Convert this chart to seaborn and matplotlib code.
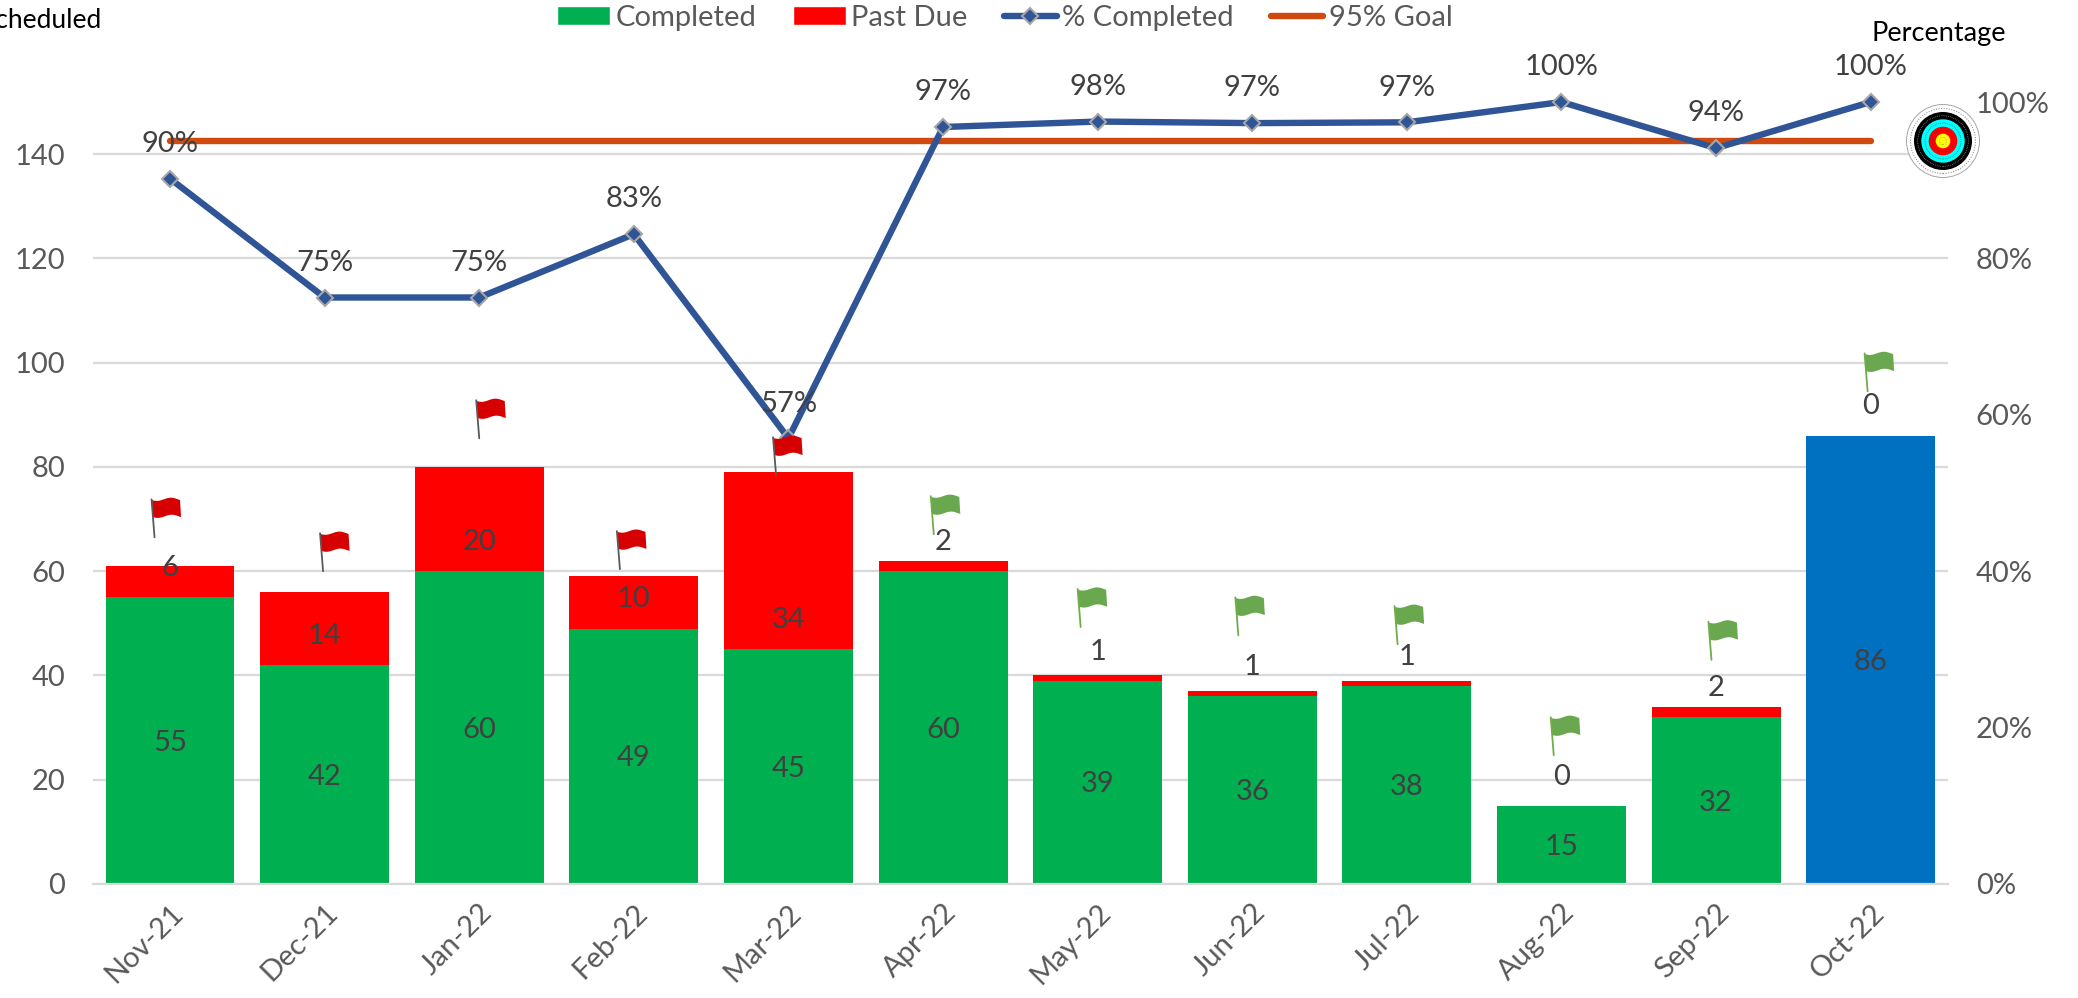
import numpy as np
import pandas as pd
import seaborn as sns
import matplotlib
matplotlib.use("Agg")
import matplotlib.pyplot as plt
from matplotlib.lines import Line2D
from matplotlib.patches import Patch, Polygon, Circle
from matplotlib.transforms import Affine2D, ScaledTranslation

months = ["Nov-21", "Dec-21", "Jan-22", "Feb-22", "Mar-22", "Apr-22",
          "May-22", "Jun-22", "Jul-22", "Aug-22", "Sep-22", "Oct-22"]
completed = [55, 42, 60, 49, 45, 60, 39, 36, 38, 15, 32, 86]
past_due = [6, 14, 20, 10, 34, 2, 1, 1, 1, 0, 2, 0]
pct_completed = [90.2, 75.0, 75.0, 83.1, 57.0, 96.8, 97.5, 97.3, 97.4, 100.0, 94.1, 100.0]
pct_labels = ["90%", "75%", "75%", "83%", "57%", "97%", "98%", "97%", "97%", "100%", "94%", "100%"]
goal = [95] * 12
bar_colors = ["#00B050"] * 11 + ["#0070C0"]

# flag foot positions, in category / left axis units
flag_x = [-0.10, 0.99, 2.00, 2.91, 3.92, 4.94, 5.89, 6.91, 7.94, 8.95, 9.97, 10.98]
flag_y = [66.5, 60.0, 85.5, 60.4, 78.4, 67.1, 49.3, 47.7, 46.0, 24.7, 43.0, 94.5]
flag_red = [True] * 5 + [False] * 7

W, H = 2078, 998
GRID = "#D9D9D9"
TXT = "#595959"
LBL = "#404040"
FS = 21

sns.set_theme(style="white")
plt.rcParams["font.family"] = ["Lato", "DejaVu Sans"]

df = pd.DataFrame({"month": months, "completed": completed, "past_due": past_due})

fig = plt.figure(figsize=(W / 100, H / 100), dpi=100)
ax = fig.add_axes([92.7 / W, 1 - 884 / H, (1948 - 92.7) / W, 782 / H])

# stacked bars
sns.barplot(data=df, x="month", y="completed", hue="month", palette=bar_colors, legend=False,
            saturation=1, width=0.834, linewidth=0, ax=ax, zorder=2)
sns.barplot(data=df, x="month", y="past_due", color="#FF0000", bottom=df["completed"],
            saturation=1, width=0.834, linewidth=0, ax=ax, zorder=2)

ax.set_xlim(-0.5, 11.5)
ax.set_ylim(0, 150)
ax.set_yticks(range(0, 141, 20))
ax.set_xlabel("")
ax.set_ylabel("")
ax.grid(axis="y", color=GRID, lw=1.6, zorder=0)
ax.set_axisbelow(True)
sns.despine(ax=ax, left=True, right=True, top=True)
ax.spines["bottom"].set_color(GRID)
ax.spines["bottom"].set_linewidth(1.6)
ax.tick_params(axis="y", length=0, labelsize=FS, labelcolor=TXT, pad=20)
ax.tick_params(axis="x", length=0, labelsize=FS, labelcolor=TXT, pad=11)
plt.setp(ax.get_xticklabels(), rotation=45, ha="right", rotation_mode="anchor")

# bar labels
for i, (c, p) in enumerate(zip(completed, past_due)):
    ax.annotate(str(c), (i, c / 2), xytext=(0, -1.5), textcoords="offset points",
                ha="center", va="center", fontsize=FS, color=LBL, zorder=6)
    ax.annotate(str(p), (i, c), xytext=(0, 21), textcoords="offset points",
                ha="center", va="center", fontsize=FS, color=LBL, zorder=6)

# percentage axis
ax2 = ax.twinx()
ax2.set_ylim(0, 100)
ax2.set_yticks(range(0, 101, 20))
ax2.set_yticklabels([f"{v}%" for v in range(0, 101, 20)])
ax2.tick_params(axis="y", length=0, labelsize=FS, labelcolor=TXT, pad=20)
ax2.grid(False)
sns.despine(ax=ax2, left=True, right=True, top=True, bottom=True)

sns.lineplot(x=range(12), y=goal, color="#D04A0F", lw=4.6, ax=ax2, zorder=3,
             solid_capstyle="round")
sns.lineplot(x=range(12), y=pct_completed, color="#2F5597", lw=4.6, ax=ax2, zorder=4,
             marker="D", markersize=8, markerfacecolor="#2F5597", markeredgecolor="#A6A6A6",
             markeredgewidth=1.5, clip_on=False)
for i, (v, s) in enumerate(zip(pct_completed, pct_labels)):
    ax2.annotate(s, (i, v), xytext=(0, 25), textcoords="offset points",
                 ha="center", va="center", fontsize=FS, color=LBL, zorder=6)

# flags, shape in pixels from the foot of the pole
wave = np.linspace(0, 1, 25)
top = np.column_stack([-2.5 + 28 * wave, 38 - 1.6 * np.sin(2 * np.pi * wave + 0.5)])
bottom = np.column_stack([-1.5 + 28 * wave[::-1], 21 - 1.6 * np.sin(2 * np.pi * wave[::-1] + 0.5)])
flag_shape = np.vstack([top, bottom])
for x, y, red in zip(flag_x, flag_y, flag_red):
    to_disp = ScaledTranslation(x, y, ax.transData)
    fill = "#D60000" if red else "#6AA84F"
    pole = "#595959" if red else "#70AD47"
    ax2.add_patch(Polygon(flag_shape, closed=True, fc=fill, ec="none",
                          transform=Affine2D() + to_disp, zorder=7, clip_on=False))
    ax2.add_line(Line2D([0, -3], [0, 38], color=pole, lw=1.3, transform=Affine2D() + to_disp,
                        zorder=7, clip_on=False))

# target
tx = fig.add_axes([(1943 - 38) / W, 1 - (141 + 38) / H, 76 / W, 76 / H], zorder=8)
tx.set_xlim(-38, 38)
tx.set_ylim(-38, 38)
tx.axis("off")
tx.add_patch(Circle((0, 0), 36.5, fc="white", ec="#A6A6A6", lw=0.7))
tx.add_patch(Circle((0, 0), 32.5, fc="none", ec="#7F7F7F", lw=0.7, ls=":"))
tx.add_patch(Circle((0, 0), 29, fc="black", ec="none"))
tx.add_patch(Circle((0, 0), 25.3, fc="none", ec="#BFBFBF", lw=0.5, ls=":"))
tx.add_patch(Circle((0, 0), 21.7, fc="#00FFFF", ec="none"))
tx.add_patch(Circle((0, 0), 18, fc="none", ec="#404040", lw=0.5, ls=":"))
tx.add_patch(Circle((0, 0), 14.3, fc="#FF0000", ec="none"))
tx.add_patch(Circle((0, 0), 10.8, fc="none", ec="#404040", lw=0.5, ls=":"))
tx.add_patch(Circle((0, 0), 7.3, fc="#FFFF00", ec="none"))
tx.add_patch(Circle((0, 0), 3.6, fc="none", ec="#7F7F7F", lw=0.5, ls=":"))

# legend
handles = [
    Patch(fc="#00B050", label="Completed"),
    Patch(fc="#FF0000", label="Past Due"),
    Line2D([], [], color="#2F5597", lw=4.6, marker="D", markersize=8, markerfacecolor="#2F5597",
           markeredgecolor="#A6A6A6", markeredgewidth=1.5, label="% Completed"),
    Line2D([], [], color="#D04A0F", lw=4.6, label="95% Goal"),
]
fig.legend(handles=handles, ncol=4, loc="center", bbox_to_anchor=(1005 / W, 1 - 18 / H),
           frameon=False, fontsize=FS, labelcolor=TXT, handlelength=1.8, handleheight=0.62,
           handletextpad=0.2, columnspacing=1.25, borderpad=0, borderaxespad=0)

# axis titles, the left one runs off the edge of the picture
fig.text(101 / W, 1 - 20 / H, "Scheduled", ha="right", va="center", fontsize=19, color="black")
fig.text(1939 / W, 1 - 33 / H, "Percentage", ha="center", va="center", fontsize=19.5, color="black")

fig.savefig("out.png", dpi=100)
